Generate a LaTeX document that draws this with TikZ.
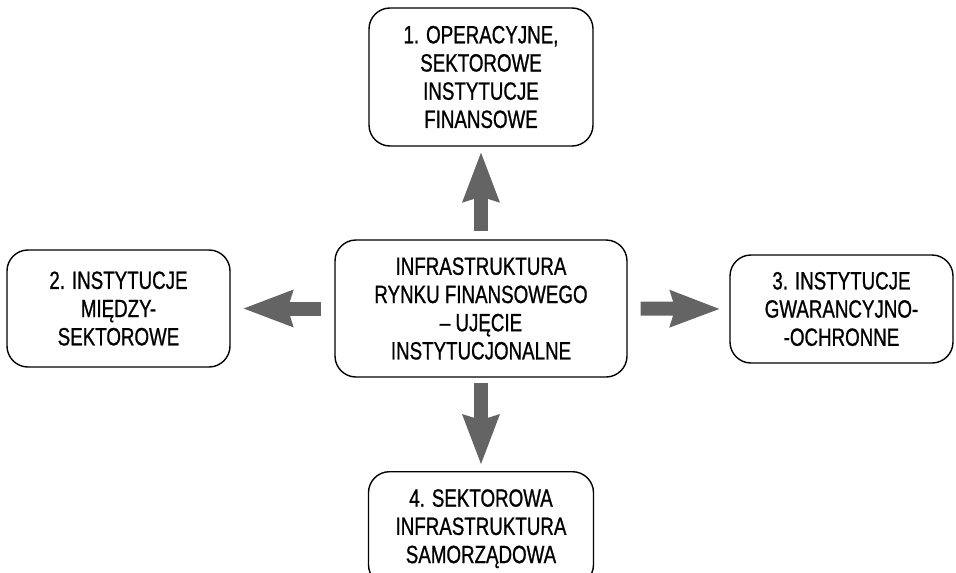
\documentclass[tikz,border=0pt]{standalone}
\usepackage{fontspec}
\setmainfont{Liberation Sans}[FakeStretch=0.75, FakeBold=0.8]
\usetikzlibrary{arrows.meta}
\definecolor{arrgray}{HTML}{646464}
\tikzset{
  box/.style={draw=black, line width=1.4pt, rounded corners=21pt, align=center,
    inner sep=0pt, font=\fontsize{25}{28.2}\selectfont, text=black},
  bigarrow/.style={draw=arrgray, line width=14pt,
    -{Stealth[length=50pt, width=38pt, inset=6pt, line width=0pt]}},
}
\begin{document}
\begin{tikzpicture}[x=1pt, y=-1pt]
\clip (0,0) rectangle (956,573);
\fill[white] (0,0) rectangle (956,573);
\node[box, minimum width=224pt, minimum height=138pt] (top) at (481,77)
  {1. OPERACYJNE,\\SEKTOROWE\\INSTYTUCJE\\FINANSOWE};
\node[box, minimum width=292pt, minimum height=137pt] (center) at (481,308.5)
  {INFRASTRUKTURA\\RYNKU FINANSOWEGO\\– UJĘCIE\\INSTYTUCJONALNE};
\node[box, minimum width=223pt, minimum height=117pt] (left) at (118.5,308.5)
  {2. INSTYTUCJE\\MIĘDZY-\\SEKTOROWE};
\node[box, minimum width=223pt, minimum height=108pt] (right) at (841.5,309)
  {3. INSTYTUCJE\\GWARANCYJNO-\\-OCHRONNE};
\node[box, minimum width=225pt, minimum height=114pt, anchor=north] (bottom) at (481,471)
  {4. SEKTOROWA\\INFRASTRUKTURA\\SAMORZĄDOWA};
\draw[bigarrow, shorten <=8pt, shorten >=6pt] (center.north) -- (top.south);
\draw[bigarrow, shorten <=13pt, shorten >=13pt] (center.west) -- (left.east);
\draw[bigarrow, shorten <=13pt, shorten >=10pt] (center.east) -- (right.west);
\draw[bigarrow, shorten <=5pt, shorten >=7pt] (center.south) -- (bottom.north);
\end{tikzpicture}
\end{document}
